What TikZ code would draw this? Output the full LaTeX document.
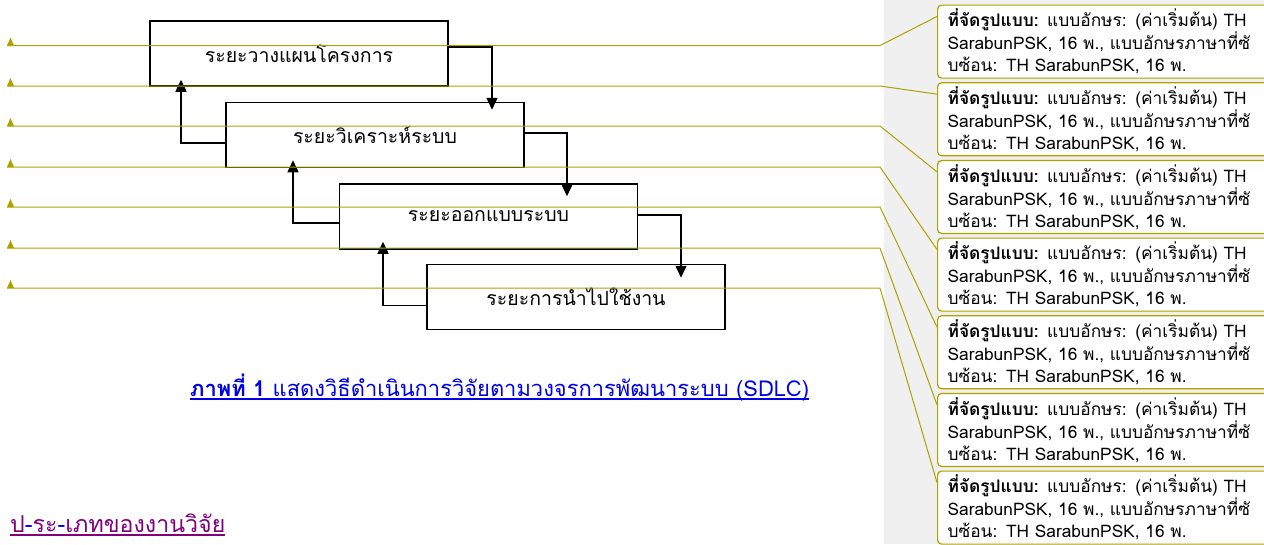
\documentclass[tikz,border=0pt]{standalone}
\usepackage{fontspec}
\newfontfamily\thaifont[Script=Thai]{Loma}
\usetikzlibrary{arrows.meta, positioning}
\definecolor{notecol}{RGB}{172,163,0}
\definecolor{panelgrey}{RGB}{240,240,240}
\definecolor{capblue}{RGB}{0,0,230}
\definecolor{headpurple}{RGB}{128,0,128}
\newcommand{\ulthick}[1]{\setbox0=\hbox{#1}\leavevmode\rlap{\rule[-3.5pt]{\wd0}{1.3pt}}\box0}

\begin{document}
\begin{tikzpicture}[x=1pt, y=-1pt,
	phase/.style={draw, line width=1.5pt, minimum width=298pt, minimum height=65pt,
		inner sep=0pt, font=\thaifont\fontsize{19.5}{24}\selectfont},
	flow/.style={line width=1.5pt, -{Triangle[length=12pt, width=11pt]}},
	note/.style={draw=notecol, line width=1.2pt, rounded corners=4pt, fill=white,
		anchor=north west, minimum height=73pt, text width=311pt, inner xsep=10pt,
		align=left, font=\thaifont\fontsize{17.3}{22}\selectfont},
	noteline/.style={draw=notecol, line width=1pt}]
	\useasboundingbox (0,0) rectangle (1264,544);
	\fill[panelgrey] (884,0) rectangle (1264,544);

	% waterfall
	\node[phase] 	(A)	at (299,53.5)					{ระยะวางแผนโครงการ};
	\node[phase] 	(B)	[below=15pt of A, xshift=76pt]		{ระยะวิเคราะห์ระบบ};
	\node[phase] 	(C)	[below=15pt of B, xshift=113.5pt]	{ระยะออกแบบระบบ};
	\node[phase] 	(D)	[below=14pt of C, xshift=87.5pt]	{ระยะการนำไปใช้งาน};

	\draw[flow, shorten >=-8pt]		([yshift=6.5pt]A.east)	-| (492,0 |- B.north);
	\draw[flow, shorten >=-13pt]	([yshift=2pt]B.east)	-| (567,0 |- C.north);
	\draw[flow, shorten >=-14pt]	([yshift=1.5pt]C.east)	-| (681,0 |- D.north);
	\draw[flow, shorten >=-7pt]		([yshift=-8pt]B.west)	-| (181,0 |- A.south);
	\draw[flow, shorten >=-8pt]		([yshift=-6.5pt]C.west)	-| (293,0 |- B.south);
	\draw[flow, shorten >=-8pt]		([yshift=-8.5pt]D.west)	-| (383,0 |- C.south);

	\node[anchor=base west, inner sep=0pt, text=capblue, font=\thaifont\fontsize{21.9}{26}\selectfont]
		(cap) at (190,396) {\ulthick{{\bfseries ภาพที่ 1} แสดงวิธีดำเนินการวิจัยตามวงจรการพัฒนาระบบ (SDLC)}};
	\node[anchor=base west, inner sep=0pt, text=headpurple, font=\thaifont\fontsize{23.2}{28}\selectfont]
		(head) at (10,532) {\ulthick{ป\textcolor{capblue}{-}ระ\textcolor{capblue}{-}เภทของงานวิจัย}};

	% comments in the margin
	\foreach \i in {1,...,7}
		\node[note] (N\i) at (937,{4.5+77.67*(\i-1)})
			{{\bfseries ที่จัดรูปแบบ:} แบบอักษร: (ค่าเริ่มต้น) TH\\
			SarabunPSK, 16 พ., แบบอักษรภาษาที่ซั\\
			บซ้อน: TH SarabunPSK, 16 พ.};

	\foreach \i/\y in {1/45.5, 2/86, 3/126, 4/167, 5/207, 6/248, 7/288} {
		\coordinate (M\i) at (7,\y);
		\fill[notecol] (M\i) -- ++(7,0) -- ++(-3.5,-8) -- cycle;
		\draw[noteline] (M\i) -- (880,\y) -- ([yshift=-12pt]N\i.north west);
	}
\end{tikzpicture}
\end{document}
